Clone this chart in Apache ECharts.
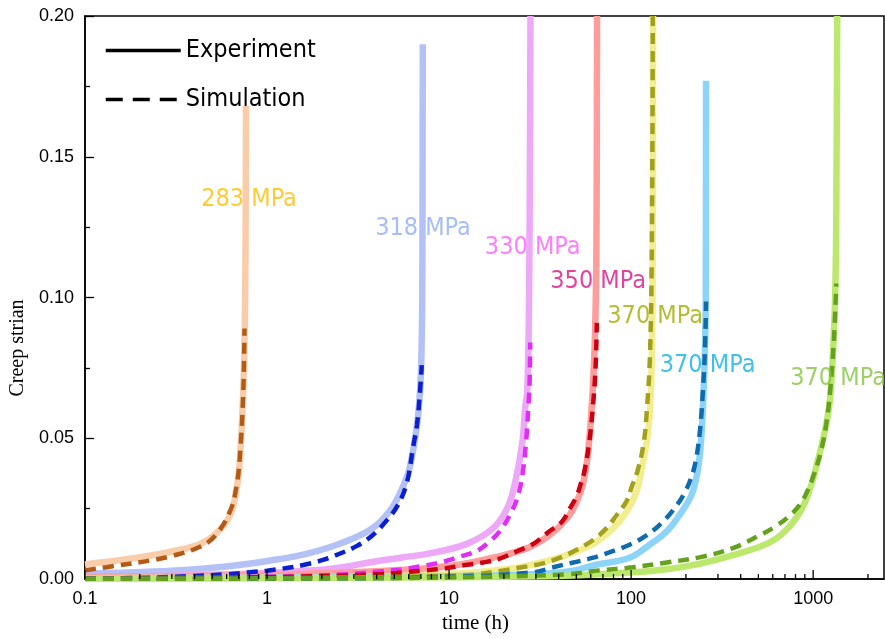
<!DOCTYPE html>
<html>
<head>
<meta charset="utf-8">
<script src="https://cdn.jsdelivr.net/npm/echarts@6/dist/echarts.min.js"></script>
<style>
html,body{margin:0;padding:0;background:#fff;overflow:hidden;}
#chart{width:885px;height:639px;}
</style>
</head>
<body>
<div id="chart"></div>
<script>
// ---------- data (time in h, creep strain) ----------
const exp283 = [[0.1,0.0052],[0.15,0.0066],[0.227,0.0083],[0.3,0.0098],[0.428,0.0125],[0.52,0.0160],[0.625,0.0226],[0.68,0.0320],[0.71,0.0430],[0.74,0.0670],[0.755,0.0900],[0.762,0.1200],[0.765,0.1500],[0.766,0.1680]];
const sim283 = [[0.1,0.0031],[0.15,0.0048],[0.227,0.0066],[0.3,0.0082],[0.428,0.0115],[0.52,0.0155],[0.625,0.0240],[0.68,0.0330],[0.71,0.0440],[0.74,0.0660],[0.752,0.0890]];

const exp318 = [[0.1,0.0020],[0.3,0.0030],[0.6,0.0045],[1.04,0.0066],[1.58,0.0087],[2.42,0.0122],[3.67,0.0174],[4.7,0.0240],[5.6,0.0330],[6.1,0.0400],[6.67,0.0550],[6.93,0.0670],[7.05,0.0800],[7.12,0.1000],[7.15,0.1400],[7.17,0.1900]];
const sim318 = [[0.1,0.0002],[0.2,0.0004],[0.36,0.0010],[0.6,0.0017],[0.8,0.0024],[1.0,0.0030],[1.3,0.0040],[1.58,0.0050],[2.03,0.0068],[2.5,0.0090],[3.12,0.0118],[3.8,0.0156],[4.5,0.0205],[5.2,0.0260],[5.85,0.0340],[6.35,0.0470],[6.67,0.0550],[6.93,0.0670],[7.08,0.0760]];

const exp330 = [[0.1,0.0006],[0.3,0.0012],[1,0.0022],[2,0.0033],[2.6,0.0042],[3.7,0.0060],[5.4,0.0076],[8.1,0.0093],[12.6,0.0126],[17.4,0.0180],[20.8,0.0250],[23,0.0340],[25.2,0.0480],[26.2,0.0610],[26.9,0.0670],[27.5,0.1000],[27.8,0.1500],[28,0.2000]];
const sim330 = [[0.1,0.0002],[0.5,0.0006],[1,0.0009],[1.58,0.0011],[2.61,0.0017],[4.3,0.0028],[5.6,0.0035],[7.2,0.0047],[9.3,0.0062],[11.5,0.0080],[14.2,0.0100],[16.8,0.0135],[19,0.0170],[21.5,0.0226],[23.6,0.0285],[25.2,0.0365],[26.5,0.0490],[27.3,0.0620],[27.7,0.0700],[27.9,0.0840]];

const exp350 = [[0.1,0.0008],[1,0.0015],[3,0.0025],[7,0.0037],[11.5,0.0052],[17.4,0.0076],[26.9,0.0110],[35.6,0.0156],[44.4,0.0215],[50.2,0.0274],[54.5,0.0340],[58,0.0450],[61.5,0.0670],[63.5,0.0900],[64.5,0.1200],[65,0.2000]];
const sim350 = [[0.1,0.0002],[1,0.0007],[4.17,0.0017],[5.6,0.0024],[7.2,0.0030],[9.3,0.0037],[12,0.0049],[15.4,0.0059],[19,0.0073],[23.8,0.0100],[29.5,0.0128],[35.6,0.0170],[41.8,0.0205],[46,0.0250],[50.2,0.0295],[53,0.0340],[55.5,0.0385],[59,0.0490],[61.8,0.0620],[63.8,0.0750],[64.8,0.0910]];

const exp370a = [[0.1,0.0003],[1,0.0006],[5,0.0010],[11.5,0.0020],[17.4,0.0030],[26.9,0.0048],[40.7,0.0078],[61.8,0.0125],[79.6,0.0180],[94.6,0.0240],[107,0.0310],[114,0.0390],[122,0.0490],[127,0.0600],[130,0.0800],[131.5,0.1200],[132,0.2000]];
const sim370a = [[0.1,0.0001],[1,0.0003],[5,0.0008],[10,0.0012],[14,0.0017],[20,0.0031],[25,0.0042],[32,0.0054],[40.7,0.0076],[50.2,0.0104],[61.8,0.0139],[73,0.0180],[83,0.0226],[94.6,0.0278],[101,0.0330],[108,0.0380],[117,0.0480],[122,0.0600],[127,0.0800],[130,0.1200],[131.5,0.2000]];

const exp370b = [[0.1,0.0003],[1,0.0005],[10,0.0010],[29,0.0017],[48,0.0030],[62,0.0049],[98,0.0076],[125,0.0120],[157,0.0170],[190,0.0240],[215,0.0300],[230,0.0370],[240,0.0460],[248,0.0610],[254,0.0800],[257,0.1000],[258,0.1770]];
const sim370b = [[0.1,0.0001],[1,0.0002],[10,0.0008],[29,0.0024],[37.3,0.0042],[48,0.0059],[62,0.0076],[80,0.0100],[98,0.0122],[122,0.0156],[150,0.0205],[177,0.0260],[198,0.0310],[215,0.0365],[228,0.0430],[240,0.0540],[248,0.0670],[254,0.0800],[258,0.0986]];

const exp370c = [[0.1,0.0002],[1,0.0003],[10,0.0007],[44,0.0012],[102,0.0024],[157,0.0035],[240,0.0055],[362,0.0085],[555,0.0125],[700,0.0170],[850,0.0240],[960,0.0320],[1050,0.0410],[1180,0.0550],[1250,0.0670],[1320,0.1000],[1345,0.1500],[1355,0.2000]];
const sim370c = [[0.1,0.0001],[1,0.0002],[10,0.0006],[44,0.0017],[67,0.0031],[102,0.0042],[157,0.0059],[240,0.0078],[362,0.0110],[510,0.0156],[631,0.0190],[745,0.0226],[850,0.0267],[940,0.0320],[1020,0.0380],[1100,0.0450],[1180,0.0550],[1240,0.0670],[1300,0.0850],[1340,0.1050]];

// stress labels (text, anchor time, anchor strain)
const labelTexts = ['283 MPa','318 MPa','330 MPa','350 MPa','370 MPa','370 MPa','370 MPa'];
const labelTimes = [0.796, 7.19, 28.8, 65.9, 135.5, 263, 1371];
const labelStrains = [0.135, 0.1247, 0.1177, 0.1056, 0.0934, 0.076, 0.0712];

// axis ticks
const xMajorTicks = [0.1, 1, 10, 100, 1000];
const xMinorTicks = [0.2,0.3,0.4,0.5,0.6,0.7,0.8,0.9,2,3,4,5,6,7,8,9,20,30,40,50,60,70,80,90,200,300,400,500,600,700,800,900,2000];
const yTicks = [0, 0.05, 0.10, 0.15, 0.20];

// ---------- styles ----------
const expColors = ['#F9CDAA','#B3C1F7','#EEA8F8','#FF9C9C','#F2EE90','#8CD4FA','#BDE86E'];
const simColors = ['#B45A14','#0A1FD0','#E02EF5','#CC0010','#A3A01C','#0F6BAE','#64A21E'];
const labelColors = ['#FFBE00','#90AEF5','#FF5CFF','#DC1485','#A2AC00','#0FB0E8','#86C443'];

const expData = [exp283, exp318, exp330, exp350, exp370a, exp370b, exp370c];
const simData = [sim283, sim318, sim330, sim350, sim370a, sim370b, sim370c];

const series = [];
expData.forEach((d, i) => {
  series.push({
    type: 'line', data: d, symbol: 'none', silent: true,
    smooth: 0.4,
    lineStyle: { color: expColors[i], width: 6.5 },
    z: 2
  });
});
simData.forEach((d, i) => {
  series.push({
    type: 'line', data: d, symbol: 'none', silent: true,
    smooth: 0.4,
    lineStyle: { color: simColors[i], width: 4.5, type: [11, 7] },
    z: 3
  });
});
// legend dummies
series.push({ name: 'Experiment', type: 'line', data: [], symbol: 'none',
  itemStyle: { color: 'rgba(0,0,0,0)' }, lineStyle: { color: '#000', width: 3.5 } });
series.push({ name: 'Simulation', type: 'line', data: [], symbol: 'none',
  itemStyle: { color: 'rgba(0,0,0,0)' }, lineStyle: { color: '#000', width: 3.5, type: [17, 10] } });

// stress labels
series.push({
  type: 'scatter', silent: true, symbolSize: 1, z: 5,
  itemStyle: { color: 'transparent' },
  data: labelTexts.map((t, i) => ({
    value: [labelTimes[i], labelStrains[i]],
    label: { show: true, position: 'inside', formatter: t, color: labelColors[i],
      textBorderWidth: 0, fontSize: 25, fontFamily: '"DejaVu Sans Condensed", "DejaVu Sans", sans-serif' }
  }))
});

// x ticks (log axis major + minor ticks)
const tickData = xMajorTicks.map(v => [v, 1]).concat(xMinorTicks.map(v => [v, 0]));
series.push({
  type: 'custom', silent: true, z: 10, clip: false,
  data: tickData,
  encode: { x: 0 },
  renderItem: function (params, api) {
    const v = api.value(0);
    const major = api.value(1);
    const p = api.coord([v, 0]);
    const len = major ? 9 : 5;
    return { type: 'line', shape: { x1: p[0], y1: p[1], x2: p[0], y2: p[1] - len },
      style: { stroke: '#000', lineWidth: 1.3 } };
  }
});

const chart = echarts.init(document.getElementById('chart'), null, { renderer: 'canvas', width: 885, height: 639 });
chart.setOption({
  animation: false,
  backgroundColor: '#fff',
  grid: { left: 85, width: 799, top: 16, height: 576, show: true, borderColor: '#000', borderWidth: 1.5, containLabel: false },
  legend: {
    data: ['Experiment', 'Simulation'], orient: 'vertical', left: 99, top: 33,
    itemWidth: 75, itemHeight: 25, itemGap: 24, selectedMode: false,
    itemStyle: { opacity: 0 },
    lineStyle: { width: 3.5 },
    textStyle: { fontSize: 25, color: '#000', lineHeight: 25,
      fontFamily: '"DejaVu Sans Condensed", "DejaVu Sans", sans-serif' }
  },
  xAxis: {
    type: 'log', logBase: 10, min: 0.1, max: 2450,
    axisLine: { show: true, lineStyle: { color: '#000', width: 1.5 } },
    axisTick: { show: false },
    splitLine: { show: false },
    axisLabel: { color: '#000', fontSize: 18, fontFamily: '"Liberation Sans", Arial, sans-serif',
      margin: 11, showMaxLabel: false,
      formatter: v => (xMajorTicks.indexOf(+(+v).toPrecision(6)) >= 0 ? String(+(+v).toPrecision(6)) : '') },
    name: 'time (h)', nameLocation: 'middle', nameGap: 22,
    nameTextStyle: { color: '#000', fontSize: 21, fontFamily: '"Liberation Serif", "Times New Roman", serif', padding: [0, 18, 0, 0] }
  },
  yAxis: {
    type: 'value', min: yTicks[0], max: yTicks[yTicks.length - 1], interval: 0.05,
    axisLine: { show: true, lineStyle: { color: '#000', width: 1.5 } },
    axisTick: { show: true, inside: true, length: 9, lineStyle: { color: '#000', width: 1.3 } },
    minorTick: { show: true, splitNumber: 2, length: 5, lineStyle: { color: '#000', width: 1.3 } },
    splitLine: { show: false },
    axisLabel: { color: '#000', fontSize: 18, fontFamily: '"Liberation Sans", Arial, sans-serif',
      margin: 11, formatter: v => v.toFixed(2) }
  },
  graphic: [{
    type: 'text', x: 18, y: 348, rotation: Math.PI / 2,
    style: { text: 'Creep strian', fill: '#000', font: '20px "Liberation Serif", "Times New Roman", serif',
      align: 'center', verticalAlign: 'middle' }
  }],
  series: series
});
</script>
</body>
</html>
